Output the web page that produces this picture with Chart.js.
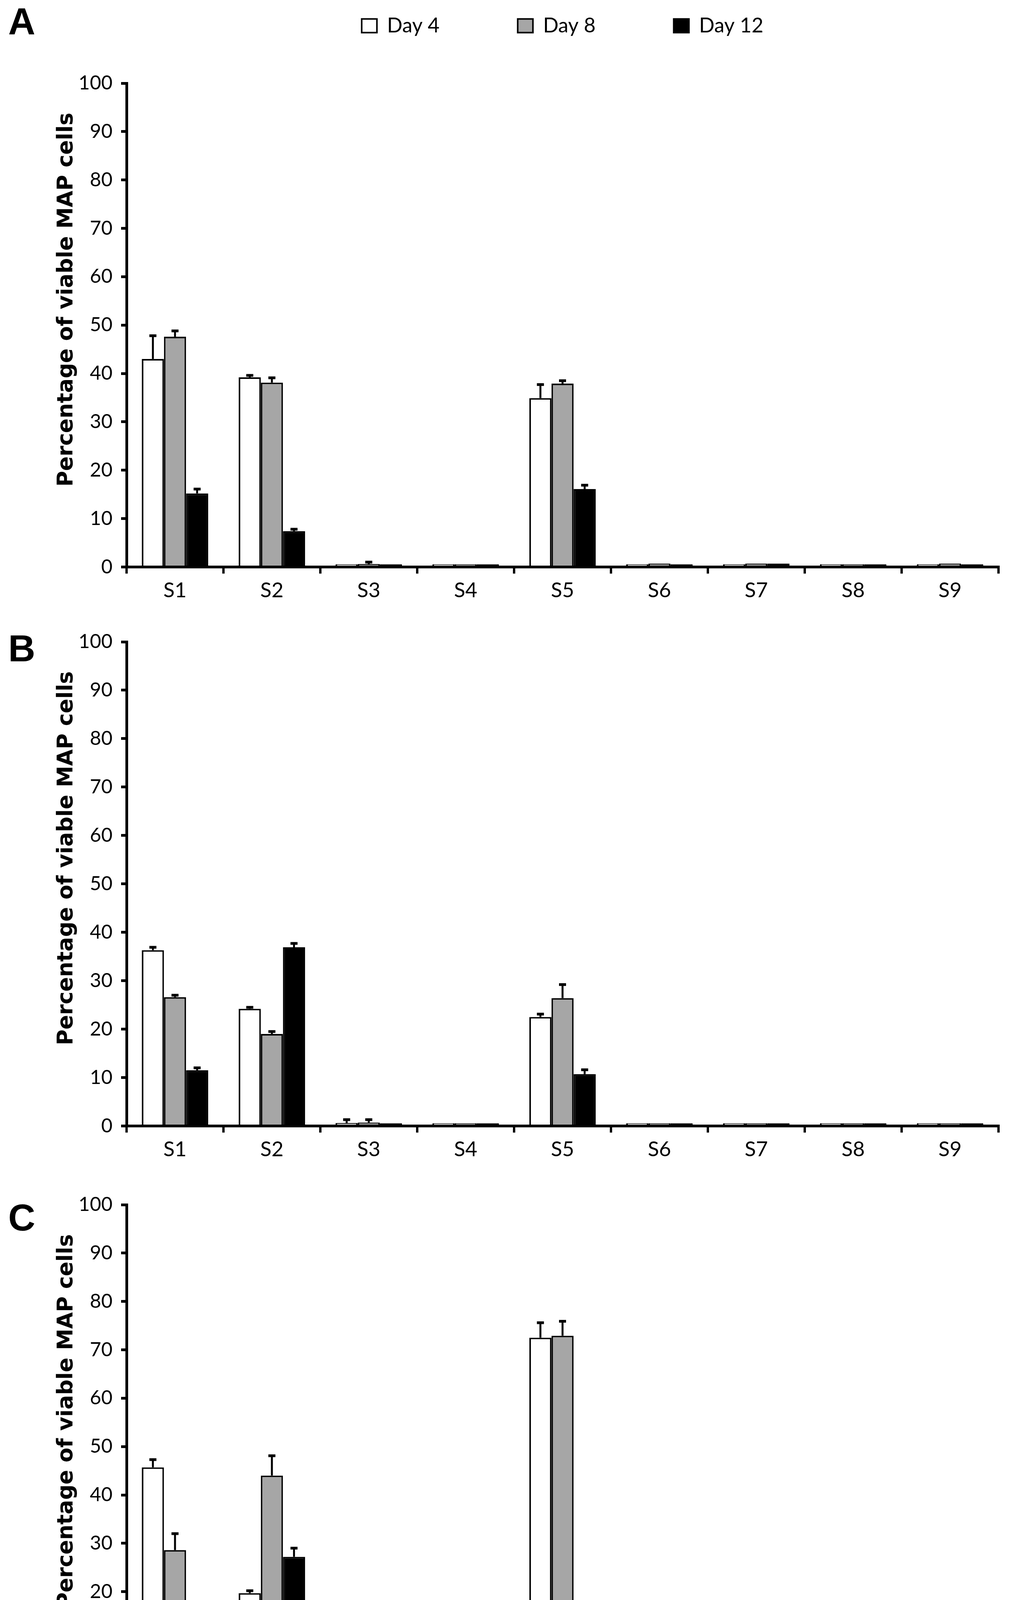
<!DOCTYPE html>
<html>
<head>
<meta charset="utf-8">
<script src="https://cdn.jsdelivr.net/npm/chart.js@4.4.0/dist/chart.umd.min.js"></script>
<style>
  html, body { margin: 0; padding: 0; background: #fff; }
  body { width: 2588px; height: 4548px; position: relative; overflow: hidden; }
  .panel { position: absolute; left: 0; width: 2588px; }
  .panel canvas { display: block; }
  .letter { position: absolute; font-family: "Liberation Sans", Arial, sans-serif; font-weight: bold;
            font-size: 96px; line-height: 1; color: #000; }
  .ytitle { position: absolute; font-family: "DejaVu Sans", sans-serif; font-weight: bold; font-size: 55px;
            line-height: 1; white-space: nowrap; color: #000;
            transform: translate(-50%, -50%) rotate(-90deg); }
  .xtitle { position: absolute; font-family: Lato, sans-serif; font-weight: bold; font-size: 67px;
            line-height: 1; white-space: nowrap; color: #262626; transform: translateX(-50%); }
</style>
</head>
<body>
<div class="letter" style="left:21px;top:7px">A</div>
<div class="letter" style="left:21px;top:1612px">B</div>
<div class="letter" style="left:21px;top:3069px">C</div>

<div class="ytitle" style="left:166px;top:767px">Percentage of viable MAP cells</div>
<div class="ytitle" style="left:166px;top:2197px">Percentage of viable MAP cells</div>
<div class="ytitle" style="left:166px;top:3638px">Percentage of viable MAP cells</div>
<div class="xtitle" style="left:1303px;top:4450px">Supernatant</div>

<div id="panelA" class="panel"><canvas width="2588" height="1700"></canvas></div>
<div id="panelB" class="panel"><canvas width="2588" height="1400"></canvas></div>
<div id="panelC" class="panel"><canvas width="2588" height="1400"></canvas></div>

<script>
const categories = ['S1', 'S2', 'S3', 'S4', 'S5', 'S6', 'S7', 'S8', 'S9'];
const seriesNames = ['Day 4', 'Day 8', 'Day 12'];
const yTicks = [0, 10, 20, 30, 40, 50, 60, 70, 80, 90, 100];

// panel A
const a_day4  = [43.0, 39.2, 0.55, 0.55, 34.9, 0.55, 0.55, 0.55, 0.55];
const a_day8  = [47.6, 38.1, 0.6, 0.55, 37.9, 0.7, 0.7, 0.55, 0.7];
const a_day12 = [15.2, 7.4, 0.55, 0.55, 16.1, 0.55, 0.7, 0.55, 0.55];
const a_err4  = [4.8, 0.4, 0, 0, 2.8, 0, 0, 0, 0];
const a_err8  = [1.2, 1.0, 0.4, 0, 0.6, 0, 0, 0, 0];
const a_err12 = [0.9, 0.4, 0, 0, 0.8, 0, 0, 0, 0];

// panel B
const b_day4  = [36.3, 24.2, 0.6, 0.55, 22.5, 0.55, 0.55, 0.55, 0.55];
const b_day8  = [26.6, 19.0, 0.7, 0.55, 26.4, 0.55, 0.55, 0.55, 0.55];
const b_day12 = [11.5, 36.9, 0.55, 0.55, 10.7, 0.55, 0.55, 0.55, 0.55];
const b_err4  = [0.6, 0.3, 0.7, 0, 0.6, 0, 0, 0, 0];
const b_err8  = [0.4, 0.5, 0.6, 0, 2.8, 0, 0, 0, 0];
const b_err12 = [0.5, 0.8, 0, 0, 0.9, 0, 0, 0, 0];

// panel C
const c_day4  = [45.7, 19.7, 0.55, 0.55, 72.5, 0.55, 0.55, 0.55, 0.55];
const c_day8  = [28.6, 44.0, 0.55, 0.55, 72.9, 1.0, 0.55, 0.55, 0.55];
const c_day12 = [9.4, 27.2, 0.55, 0.55, 10.1, 0.75, 0.55, 0.55, 0.55];
const c_err4  = [1.6, 0.5, 0, 0, 3.1, 0, 0, 0, 0];
const c_err8  = [3.4, 4.1, 0, 0, 3.0, 0, 0, 0, 0];
const c_err12 = [0.2, 1.8, 0, 0, 0.6, 0, 0, 0, 0];

const fillColors = ['#ffffff', '#a6a6a6', '#000000'];

// upper error bars, drawn from each bar top
const errorBars = {
    id: 'errorBars',
    afterDatasetsDraw(chart) {
        const ctx = chart.ctx;
        const yScale = chart.scales.y;
        chart.data.datasets.forEach((ds, di) => {
            const meta = chart.getDatasetMeta(di);
            meta.data.forEach((bar, i) => {
                const err = ds.errors[i];
                if (!err) return;
                const yTop = yScale.getPixelForValue(ds.data[i] + err);
                ctx.save();
                ctx.strokeStyle = '#000';
                ctx.lineWidth = 5;
                ctx.beginPath();
                ctx.moveTo(bar.x, bar.y);
                ctx.lineTo(bar.x, yTop);
                ctx.stroke();
                ctx.lineWidth = 7;
                ctx.beginPath();
                ctx.moveTo(bar.x - 9, yTop);
                ctx.lineTo(bar.x + 9, yTop);
                ctx.stroke();
                ctx.restore();
            });
        });
    }
};

function makePanel(id, series, errors, top, bottom, withLegend) {
    const wrap = document.getElementById(id);
    const canvas = wrap.querySelector('canvas');

    const datasets = series.map((values, k) => ({
        label: seriesNames[k],
        data: values,
        errors: errors[k],
        backgroundColor: fillColors[k],
        borderColor: '#000',
        borderWidth: 4
    }));

    const chart = new Chart(canvas, {
        type: 'bar',
        data: { labels: categories, datasets: datasets },
        options: {
            responsive: false,
            maintainAspectRatio: false,
            animation: false,
            devicePixelRatio: 1,
            events: [],
            layout: { padding: { left: 0, right: 32, top: 0, bottom: 0 } },
            datasets: { bar: { categoryPercentage: 0.685, barPercentage: 1.0 } },
            plugins: {
                tooltip: { enabled: false },
                title: { display: false },
                legend: withLegend ? {
                    display: true,
                    position: 'top',
                    align: 'center',
                    fullSize: false,
                    weight: 3000,
                    labels: {
                        color: '#000',
                        font: { family: 'Lato', size: 52 },
                        boxWidth: 39,
                        boxHeight: 35,
                        padding: 200
                    }
                } : { display: false },
                // empty spacer between the legend and the plot
                subtitle: withLegend ? {
                    display: true,
                    text: '',
                    font: { size: 10, lineHeight: 1 },
                    padding: { top: 0, bottom: 101 }
                } : { display: false }
            },
            scales: {
                x: {
                    z: 1,
                    grid: { offset: true, drawOnChartArea: false, drawTicks: true, tickLength: 17, lineWidth: 6, color: '#000' },
                    border: { display: true, color: '#000', width: 7 },
                    ticks: { color: '#000', font: { family: 'Lato', size: 53 }, padding: 12, maxRotation: 0, autoSkip: false }
                },
                y: {
                    min: 0,
                    max: 100,
                    afterBuildTicks: (scale) => { scale.ticks = yTicks.map(v => ({ value: v })); },
                    ticks: { color: '#000', font: { family: 'Lato', size: 50 }, padding: 22 },
                    grid: { drawOnChartArea: false, drawTicks: true, tickLength: 14, lineWidth: 7, color: '#000' },
                    border: { display: true, color: '#000', width: 7 },
                    afterFit: (scale) => { scale.width = 324; }
                }
            }
        },
        plugins: [errorBars]
    });

    // size the canvas so the plot area spans top..bottom of the page
    let ca = chart.chartArea;
    const newHeight = Math.round(canvas.height + (bottom - top) - (ca.bottom - ca.top));
    chart.resize(2588, newHeight);
    ca = chart.chartArea;
    wrap.style.top = Math.round(top - ca.top) + 'px';
    return chart;
}

makePanel('panelA', [a_day4, a_day8, a_day12], [a_err4, a_err8, a_err12], 213, 1451, true);
makePanel('panelB', [b_day4, b_day8, b_day12], [b_err4, b_err8, b_err12], 1643, 2882, false);
makePanel('panelC', [c_day4, c_day8, c_day12], [c_err4, c_err8, c_err12], 3084, 4322, false);
</script>
</body>
</html>
